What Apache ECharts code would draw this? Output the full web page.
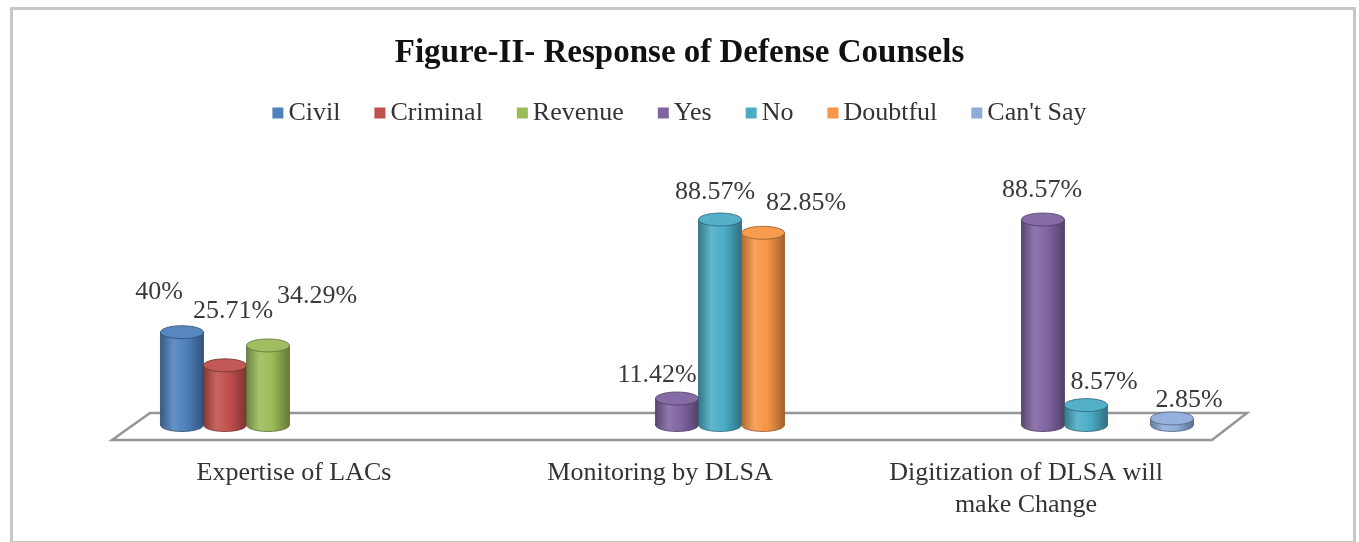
<!DOCTYPE html>
<html>
<head>
<meta charset="utf-8">
<script src="https://cdn.jsdelivr.net/npm/echarts@6/dist/echarts.min.js"></script>
<style>
html,body{margin:0;padding:0;background:#fff;}
#chart{width:1359px;height:542px;}
</style>
</head>
<body>
<div id="chart"></div>
<script>
// ---- data ----
const categories = ['Expertise of LACs', 'Monitoring by DLSA', 'Digitization of DLSA will\nmake Change'];
const seriesNames = ['Civil', 'Criminal', 'Revenue', 'Yes', 'No', 'Doubtful', "Can't Say"];
const civil    = [40, null, null];
const criminal = [25.71, null, null];
const revenue  = [34.29, null, null];
const yes      = [null, 11.42, 88.57];
const no       = [null, 88.57, 8.57];
const doubtful = [null, 82.85, null];
const cantSay  = [null, null, 2.85];
const seriesValues = [civil, criminal, revenue, yes, no, doubtful, cantSay];

// ---- styles ----
const colors = ['#4F81BD', '#C0504D', '#9BBB59', '#8064A2', '#4BACC6', '#F79646', '#8FACDA'];
// label nudges (dx, dy in px from the bar top centre), per series per category
const labelNudge = [
  [[-23, -40], null, null],
  [[8, -54], null, null],
  [[49, -49], null, null],
  [null, [-20, -23], [-1, -29]],
  [null, [-5, -27], [18, -23]],
  [null, [43, -30], null],
  [null, null, [17, -18]]
];
const FONT = "'Liberation Serif', 'Times New Roman', serif";

function shade(hex, f) {
  const n = parseInt(hex.slice(1), 16);
  let r = (n >> 16) & 255, g = (n >> 8) & 255, b = n & 255;
  const m = c => f < 0 ? Math.round(c * (1 + f)) : Math.round(c + (255 - c) * f);
  return 'rgb(' + m(r) + ',' + m(g) + ',' + m(b) + ')';
}

function renderBar(params, api) {
  const k = seriesNames.indexOf(params.seriesName);
  const ci = api.value(0);
  const v = api.value(1);
  const top = api.coord([ci, v]);
  const base = api.coord([ci, 0]);
  const band = api.size([1, 0])[0];
  const slot = band * 0.1175;
  const w = slot;
  const cx = top[0] + (k - 3) * slot;
  const ry = 6.5;
  const col = colors[k];
  const grad = new echarts.graphic.LinearGradient(0, 0, 1, 0, [
    {offset: 0, color: shade(col, -0.3)},
    {offset: 0.3, color: shade(col, 0.12)},
    {offset: 0.6, color: col},
    {offset: 1, color: shade(col, -0.35)}
  ]);
  const edge = shade(col, -0.4);
  const children = [
    {type: 'ellipse', shape: {cx: cx, cy: base[1], rx: w / 2, ry: ry},
     style: {fill: grad, stroke: edge, lineWidth: 0.8}},
    {type: 'rect', shape: {x: cx - w / 2, y: top[1], width: w, height: base[1] - top[1]},
     style: {fill: grad}},
    {type: 'line', shape: {x1: cx - w / 2, y1: top[1], x2: cx - w / 2, y2: base[1]},
     style: {stroke: edge, lineWidth: 0.8}},
    {type: 'line', shape: {x1: cx + w / 2, y1: top[1], x2: cx + w / 2, y2: base[1]},
     style: {stroke: edge, lineWidth: 0.8}},
    {type: 'ellipse', shape: {cx: cx, cy: top[1], rx: w / 2, ry: ry},
     style: {fill: shade(col, 0.05), stroke: edge, lineWidth: 0.8}}
  ];
  const nudge = labelNudge[k][ci] || [0, -20];
  children.push({
    type: 'text',
    z2: 100,
    style: {
      text: v + '%', x: cx + nudge[0], y: top[1] + nudge[1],
      align: 'center', verticalAlign: 'middle',
      fontFamily: FONT, fontSize: 26, fill: '#3a3a3a'
    }
  });
  return {type: 'group', children: children};
}

function renderFloor(params, api) {
  const cs = params.coordSys;
  const by = api.coord([0, 0])[1] + 1;
  const back = by - 13, front = by + 14;
  const pts = [
    [cs.x + 22, back], [cs.x + cs.width + 21, back],
    [cs.x + cs.width - 14, front], [cs.x - 16, front]
  ];
  return {
    type: 'polygon', shape: {points: pts},
    style: {fill: '#ffffff', stroke: '#969696', lineWidth: 2.5}
  };
}

const series = [{
  type: 'custom', name: 'floor', silent: true,
  renderItem: renderFloor, data: [[0, 0]], encode: {x: 0, y: 1}
}];
seriesNames.forEach((name, k) => {
  series.push({
    type: 'custom', name: name,
    itemStyle: {color: colors[k]},
    renderItem: renderBar,
    encode: {x: 0, y: 1},
    data: seriesValues[k].map((v, i) => [i, v]).filter(d => d[1] != null)
  });
});

const chart = echarts.init(document.getElementById('chart'), null, {renderer: 'canvas'});
chart.setOption({
  backgroundColor: '#ffffff',
  animation: false,
  title: {
    text: 'Figure-II- Response of Defense Counsels',
    left: 'center', top: 32,
    textStyle: {fontFamily: FONT, fontWeight: 'bold', fontSize: 33, color: '#111'}
  },
  legend: {
    data: seriesNames,
    top: 95, left: 'center',
    icon: 'rect', itemWidth: 11, itemHeight: 11, itemGap: 34,
    textStyle: {fontFamily: FONT, fontSize: 26, color: '#333'}
  },
  graphic: [{
    type: 'rect', left: 9, top: 6, silent: true, z: -10,
    shape: {width: 1343, height: 534},
    style: {fill: 'none', stroke: '#c8c8c8', lineWidth: 3}
  }],
  grid: {left: 128, right: 133, top: 193, bottom: 117},
  xAxis: {
    type: 'category', data: categories,
    axisLine: {show: false}, axisTick: {show: false}, splitLine: {show: false},
    axisLabel: {
      fontFamily: FONT, fontSize: 26, color: '#333', margin: 32, lineHeight: 32,
      padding: [0, 34, 0, 0], interval: 0
    }
  },
  yAxis: {type: 'value', min: 0, max: 100, show: false},
  series: series
});
</script>
</body>
</html>
